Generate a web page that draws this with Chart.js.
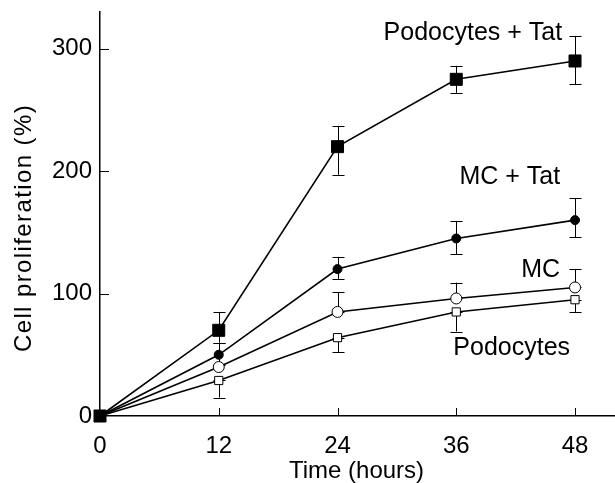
<!DOCTYPE html>
<html>
<head>
<meta charset="utf-8">
<script src="https://cdn.jsdelivr.net/npm/chart.js@4/dist/chart.umd.min.js"></script>
<style>
html,body{margin:0;padding:0;background:#fff;}
#wrap{width:615px;height:483px;}
</style>
</head>
<body>
<div id="wrap"><canvas id="c" width="615" height="483"></canvas></div>
<script>
// ---- data ----
const hours = [0, 12, 24, 36, 48];
const xTicks = [0, 12, 24, 36, 48];
const yTicks = [0, 100, 200, 300];

const podoTat      = [0, 70, 220, 275, 290];
const podoTatHigh  = [0, 85, 237, 286, 310];
const podoTatLow   = [0, 60, 197, 264, 271];

const mcTat        = [0, 50, 120, 145, 160];
const mcTatHigh    = [0, 60, 130, 159, 178];
const mcTatLow     = [0, 42, 112, 132, 146];

const mc           = [0, 40, 85, 96, 105];
const mcHigh       = [0, 40, 101, 109, 120];
const mcLow        = [0, 40, 85, 96, 105];

const podo         = [0, 29, 64, 85, 95];
const podoHigh     = [0, 29, 64, 85, 95];
const podoLow      = [0, 15, 52, 69, 85];

const seriesNames = ['Podocytes + Tat', 'MC + Tat', 'MC', 'Podocytes'];
const xTitle = 'Time (hours)';
const yTitle = 'Cell proliferation (%)';

// label anchors (data units, right aligned)
const labelAnchors = [
  {text: 'Podocytes + Tat', x: 46.7, y: 313},
  {text: 'MC + Tat', x: 46.5, y: 195},
  {text: 'MC', x: 46.5, y: 119},
  {text: 'Podocytes', x: 47.5, y: 55.5}
];

const FONT = '"Liberation Sans", Arial, Helvetica, sans-serif';

function pts(vals){ return hours.map((h,i)=>({x:h, y:vals[i]})); }

const errs = [
  {low: podoTatLow, high: podoTatHigh},
  {low: mcTatLow, high: mcTatHigh},
  {low: mcLow, high: mcHigh},
  {low: podoLow, high: podoHigh}
];

function zeroPad(s){ s.paddingTop = 0; s.paddingBottom = 0; s.paddingLeft = 0; s.paddingRight = 0; }

const errorBars = {
  id: 'errorBars',
  beforeDatasetsDraw(chart){
    const ctx = chart.ctx, xs = chart.scales.x, ys = chart.scales.y;
    ctx.save();
    ctx.strokeStyle = '#000';
    ctx.lineWidth = 1;
    errs.forEach(e=>{
      hours.forEach((h,i)=>{
        if (e.low[i] === e.high[i]) return;
        const px = Math.round(xs.getPixelForValue(h)) + 0.5;
        const y1 = ys.getPixelForValue(e.low[i]);
        const y2 = ys.getPixelForValue(e.high[i]);
        ctx.beginPath();
        ctx.moveTo(px, y1); ctx.lineTo(px, y2);
        ctx.moveTo(px-6, Math.round(y1)+0.5); ctx.lineTo(px+6, Math.round(y1)+0.5);
        ctx.moveTo(px-6, Math.round(y2)+0.5); ctx.lineTo(px+6, Math.round(y2)+0.5);
        ctx.stroke();
      });
    });
    ctx.restore();
  },
  afterDraw(chart){
    const ctx = chart.ctx, xs = chart.scales.x, ys = chart.scales.y;
    const a = chart.chartArea;
    ctx.save();
    ctx.strokeStyle = '#000';
    ctx.lineWidth = 1;
    ctx.beginPath();
    xTicks.forEach(t=>{
      if (t === 0) return;
      const px = Math.round(xs.getPixelForValue(t)) + 0.5;
      ctx.moveTo(px, a.bottom); ctx.lineTo(px, a.bottom - 8);
    });
    yTicks.forEach(t=>{
      if (t === 0) return;
      const py = Math.round(ys.getPixelForValue(t)) + 0.5;
      ctx.moveTo(a.left, py); ctx.lineTo(a.left + 9, py);
    });
    ctx.stroke();
    ctx.fillStyle = '#000';
    // series labels
    ctx.font = '25px ' + FONT;
    ctx.textAlign = 'right';
    ctx.textBaseline = 'middle';
    labelAnchors.forEach(l=>{
      ctx.fillText(l.text, xs.getPixelForValue(l.x), ys.getPixelForValue(l.y));
    });
    ctx.font = '24px ' + FONT;
    // x title
    ctx.textAlign = 'center';
    ctx.fillText(xTitle, (xs.getPixelForValue(0) + xs.getPixelForValue(48)) / 2 + 19, 471);
    // y title (rotated, slightly letter-spaced)
    ctx.save();
    ctx.translate(24, 228);
    ctx.rotate(-Math.PI/2);
    ctx.letterSpacing = '1.4px';
    ctx.fillText(yTitle, 0, 0);
    ctx.restore();
    ctx.restore();
  }
};

const base = {borderColor:'#000', borderWidth:1.6, tension:0, pointBorderColor:'#000', pointBorderWidth:1, clip:false};

new Chart(document.getElementById('c'), {
  type: 'line',
  data: {
    datasets: [
      Object.assign({}, base, {label: seriesNames[0], data: pts(podoTat), pointStyle:'rect', pointRadius:8.5, pointBackgroundColor:'#000'}),
      Object.assign({}, base, {label: seriesNames[1], data: pts(mcTat), pointStyle:'circle', pointRadius:4.5, pointBackgroundColor:'#000'}),
      Object.assign({}, base, {label: seriesNames[2], data: pts(mc), pointStyle:'circle', pointRadius:5.5, pointBackgroundColor:'#fff'}),
      Object.assign({}, base, {label: seriesNames[3], data: pts(podo), pointStyle:'rect', pointRadius:5.8, pointBackgroundColor:'#fff'})
    ]
  },
  options: {
    responsive: false,
    animation: false,
    events: [],
    layout: {autoPadding: false, padding: {top: 12, right: 0, left: 0, bottom: 0}},
    plugins: {legend: {display:false}, tooltip: {enabled:false}},
    scales: {
      x: {
        type: 'linear', min: 0, max: 52.04,
        afterBuildTicks(s){ s.ticks = xTicks.map(v=>({value:v})); },
        afterFit(s){ s.height = 67; zeroPad(s); },
        grid: {display:false},
        border: {display:true, color:'#000', width:1.5},
        ticks: {color:'#000', font:{family:FONT, size:24}, padding:8, maxRotation:0},
        title: {display:false}
      },
      y: {
        type: 'linear', min: 0, max: 330,
        afterBuildTicks(s){ s.ticks = yTicks.map(v=>({value:v})); },
        afterFit(s){ s.width = 100; zeroPad(s); },
        grid: {display:false},
        border: {display:true, color:'#000', width:1.5},
        ticks: {color:'#000', font:{family:FONT, size:24}, padding:0},
        title: {display:false}
      }
    }
  },
  plugins: [errorBars]
});
</script>
</body>
</html>
